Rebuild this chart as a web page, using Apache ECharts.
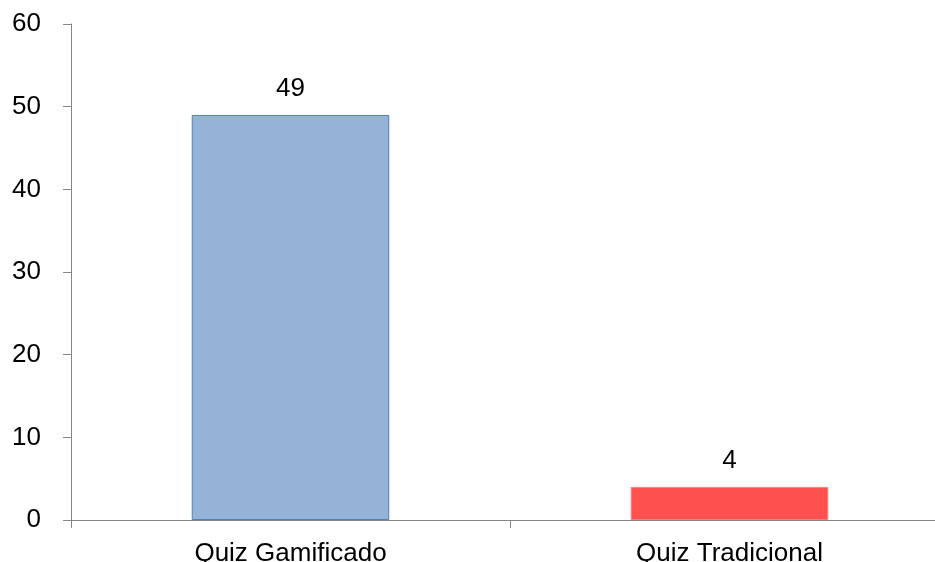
<!DOCTYPE html>
<html><head><meta charset="utf-8">
<script src="https://cdn.jsdelivr.net/npm/echarts@6/dist/echarts.min.js"></script>
<style>html,body{margin:0;padding:0;background:#fff;overflow:hidden;width:935px;height:562px}#c{width:949px;height:562px}</style>
</head><body><div id="c"></div>
<script>
var categories = ['Quiz Gamificado', 'Quiz Tradicional'];
var values = [49, 4];
var barColors = ['#95B3D7', '#FF5050'];
var borderColors = ['#4F81BD', '#FF7C80'];

var chart = echarts.init(document.getElementById('c'));
chart.setOption({
  animation: false,
  grid: {left: 71, right: 0, top: 24, bottom: 42, containLabel: false, outerBoundsMode: 'none'},
  xAxis: {
    type: 'category', data: categories,
    axisLine: {lineStyle: {color: '#868686', width: 1}},
    axisTick: {show: true, alignWithLabel: false, length: 8, lineStyle: {color: '#868686'}},
    axisLabel: {color: '#000', fontFamily: 'Liberation Sans, Arial', fontSize: 26, margin: 21}
  },
  yAxis: {
    type: 'value', min: 0, max: 60, interval: 10,
    axisLine: {show: true, lineStyle: {color: '#868686', width: 1}},
    axisTick: {show: true, length: 8, lineStyle: {color: '#868686'}},
    splitLine: {show: false},
    axisLabel: {color: '#000', fontFamily: 'Liberation Sans, Arial', fontSize: 26, margin: 30}
  },
  series: [{
    type: 'bar', barWidth: '45%',
    data: values.map(function (v, i) {
      return {value: v, itemStyle: {color: barColors[i], borderColor: borderColors[i], borderWidth: 1}};
    }),
    label: {show: true, position: 'top', distance: 13, color: '#000', fontFamily: 'Liberation Sans, Arial', fontSize: 26}
  }]
});
</script></body></html>
